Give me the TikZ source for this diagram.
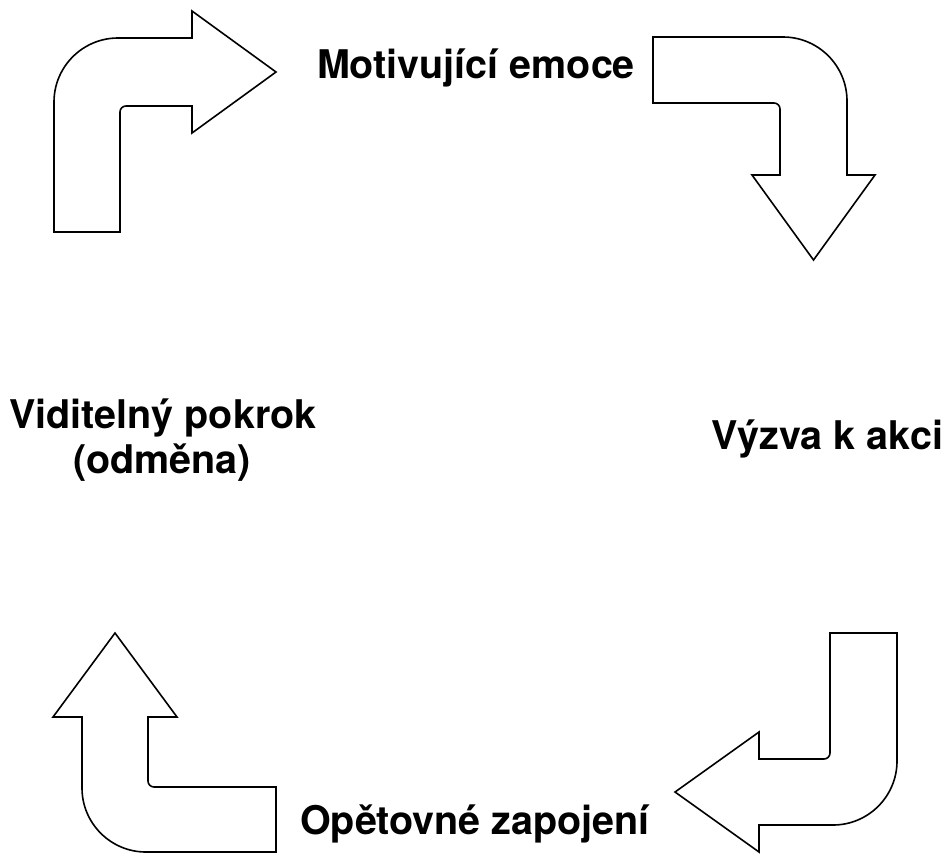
\documentclass[tikz,border=0pt]{standalone}
\usepackage{fontspec}
\setmainfont{TeX Gyre Heros}
\begin{document}
\begin{tikzpicture}[x=1pt,y=-1pt,
  bentarrow/.style={draw=black,line width=1.6pt,line join=miter,fill=white},
  cycletext/.style={font=\fontsize{39.5}{46}\selectfont\bfseries,inner sep=0pt,anchor=base}]
\useasboundingbox (0,0) rectangle (949,855);

% upper left: up, then right
\path[bentarrow] (54,232) -- (54,102) .. controls (54,66.7) and (82.7,38) .. (118,38)
  -- (192,38) -- (192,11) -- (276,72) -- (192,133) -- (192,106) -- (126,106)
  .. controls (122.7,106) and (120,108.7) .. (120,112) -- (120,232) -- cycle;

% upper right: right, then down
\path[bentarrow] (653,37) -- (783,37) .. controls (818.3,37) and (847,65.7) .. (847,101)
  -- (847,175) -- (875,175) -- (813.5,260) -- (752,175) -- (780,175) -- (780,109)
  .. controls (780,105.7) and (777.3,103) .. (774,103) -- (653,103) -- cycle;

% lower right: down, then left
\path[bentarrow] (830,633) -- (897,633) -- (897,761) .. controls (897,796.3) and (868.3,825) .. (833,825)
  -- (759,825) -- (759,852) -- (675,792) -- (759,732) -- (759,759) -- (824,759)
  .. controls (827.3,759) and (830,756.3) .. (830,753) -- cycle;

% lower left: left, then up
\path[bentarrow] (115,633) -- (177,717) -- (148,717) -- (148,781)
  .. controls (148,784.3) and (150.7,787) .. (154,787) -- (276,787) -- (276,852) -- (146,852)
  .. controls (110.7,852) and (82,823.3) .. (82,788) -- (82,717) -- (53,717) -- cycle;

\node[cycletext] (emoce) at (476,78) {Motivující emoce};
\node[cycletext] (vyzva) at (827.5,449) {Výzva k akci};
\node[cycletext] (zapojeni) at (475,834) {Opětovné zapojení};
\node[cycletext] (pokrok) at (163,428) {Viditelný pokrok};
\node[cycletext] (odmena) at (162,473) {(odměna)};
\end{tikzpicture}
\end{document}
